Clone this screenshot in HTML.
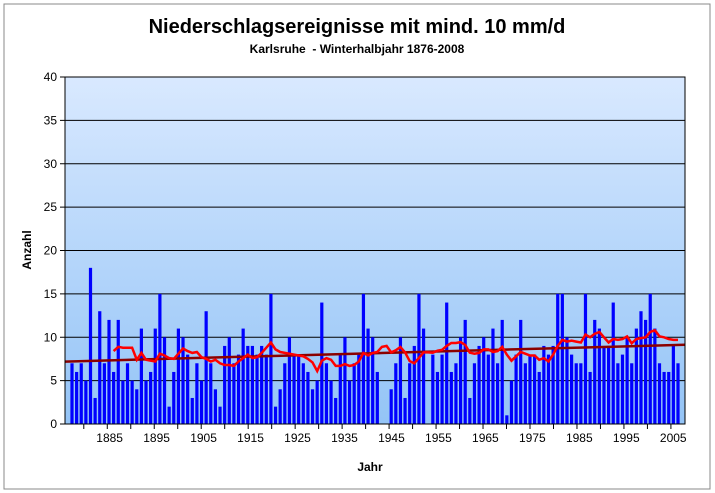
<!DOCTYPE html>
<html><head><meta charset="utf-8"><style>
body{margin:0;background:#fff;}
svg{display:block;font-family:"Liberation Sans",Arial,sans-serif;}
</style></head><body>
<svg id="chart" width="715" height="493">
<defs><linearGradient id="bg" x1="0" y1="0" x2="0" y2="1"><stop offset="0" stop-color="#d9e9ff"/><stop offset="1" stop-color="#94c4f6"/></linearGradient></defs>
<rect x="4" y="4" width="706" height="485" fill="#fff" stroke="#888"/>
<text x="357" y="33" text-anchor="middle" font-size="20" font-weight="bold">Niederschlagsereignisse mit mind. 10 mm/d</text>
<text x="357" y="53" text-anchor="middle" font-size="12" font-weight="bold" xml:space="preserve">Karlsruhe  - Winterhalbjahr 1876-2008</text>
<rect x="65" y="77" width="620" height="347" fill="url(#bg)"/>
<g id="grid"></g><g id="bars"></g><g id="lines"></g><g id="axes"></g>
<rect x="65" y="77" width="620" height="347" fill="none" stroke="#000"/>
<text transform="translate(31,250) rotate(-90)" text-anchor="middle" font-size="12" font-weight="bold">Anzahl</text>
<text x="370" y="471" text-anchor="middle" font-size="12" font-weight="bold">Jahr</text>
</svg>
<script>
const startYear = 1876;
const counts = [7,6,7,5,18,3,13,7,12,6,12,5,7,5,4,11,5,6,11,15,10,2,6,11,10,8,3,7,5,13,7,4,2,
9,10,7,8,11,9,9,8,9,8,15,2,4,7,10,8,8,7,6,4,5,14,7,5,3,8,10,5,7,8,15,11,10,
6,0,0,4,7,10,3,7,9,15,11,0,8,6,8,14,6,7,10,12,3,7,9,10,8,11,7,12,1,5,8,12,7,8,
8,6,9,8,9,15,15,10,8,7,7,15,6,12,11,9,9,14,7,8,10,7,11,13,12,15,11,7,6,6,9,7];
const yTicks = [0,5,10,15,20,25,30,35,40];
const xLabels = [1885,1895,1905,1915,1925,1935,1945,1955,1965,1975,1985,1995,2005];
const maWindow = 10;

const NS="http://www.w3.org/2000/svg";
const L=65,R=685,T=77,B=424,N=counts.length,bw=(R-L)/N;
const yS=v=>B-(v/40)*(B-T);
const xLab=i=>L+(i+0.5)*bw;
const xC=i=>72+i*(606/(N-1));
function mk(tag,attrs,parent,txt){const e=document.createElementNS(NS,tag);for(const k in attrs)e.setAttribute(k,attrs[k]);if(txt!==undefined)e.textContent=txt;parent.appendChild(e);return e;}
const grid=document.getElementById('grid'),bars=document.getElementById('bars'),lines=document.getElementById('lines'),axes=document.getElementById('axes');
yTicks.forEach(v=>{
 const g=mk('line',{x1:L,x2:R,y1:yS(v),y2:yS(v),stroke:'#000','stroke-width':1},grid);
 
 
 const tk=mk('line',{x1:L-5,x2:L,y1:yS(v),y2:yS(v),stroke:'#000'},axes);
 
 
 const t=mk('text',{x:L-8,y:yS(v)+4,'text-anchor':'end','font-size':12},axes,String(v));
 
 
});
counts.forEach((v,i)=>{
 if(v<=0)return;
 const r=mk('rect',{x:xC(i)-1.6,y:yS(v),width:3.2,height:B-yS(v),fill:'#0000ff'},bars);
 
 
});
for(let y=startYear;y<=startYear+N;y++){
 if((y-1880)%5===0&&y>startYear){const x=L+(y-startYear)*bw;
  const tk=mk('line',{x1:x,x2:x,y1:B,y2:B+5,stroke:'#000'},axes);
  
  }
}
xLabels.forEach(y=>{
 const t=mk('text',{x:xLab(y-startYear),y:B+18,'text-anchor':'middle','font-size':12},axes,String(y));
 
 
});
// linear trend
let sx=0,sy=0,sxx=0,sxy=0;counts.forEach((v,i)=>{sx+=i;sy+=v;sxx+=i*i;sxy+=i*v;});
const b=(N*sxy-sx*sy)/(N*sxx-sx*sx),a=(sy-b*sx)/N;
const tr=mk('line',{x1:L,y1:yS(a-b*((xC(0)-L)/(xC(1)-xC(0)))),x2:R,y2:yS(a+b*(N-1+(R-xC(N-1))/(xC(1)-xC(0)))),stroke:'#8b0000','stroke-width':2.5},lines);


// moving average (zeros treated as missing)
let pts=[];for(let i=maWindow-1;i<N;i++){let s=0,c=0;for(let j=i-maWindow+1;j<=i;j++){if(counts[j]>0){s+=counts[j];c++;}}pts.push(xC(i).toFixed(1)+','+yS(s/c).toFixed(1));}
const ma=mk('polyline',{points:pts.join(' '),fill:'none',stroke:'#ff0000','stroke-width':2.5},lines);


</script>
</body></html>
